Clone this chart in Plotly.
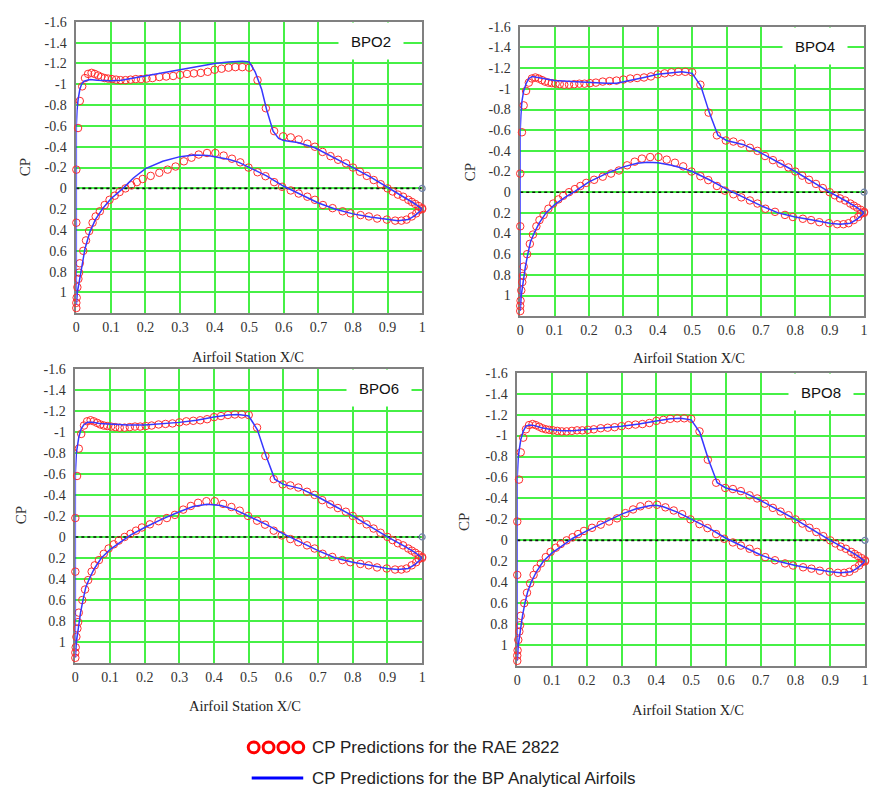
import plotly.graph_objects as go

# ---------------- DATA ----------------
panel_names = ["BPO2", "BPO4", "BPO6", "BPO8"]

x_ticks = [0, 0.1, 0.2, 0.3, 0.4, 0.5, 0.6, 0.7, 0.8, 0.9, 1.0]
x_ticktext = ["0", "0.1", "0.2", "0.3", "0.4", "0.5", "0.6", "0.7", "0.8", "0.9", "1"]
y_ticks = [-1.6, -1.4, -1.2, -1.0, -0.8, -0.6, -0.4, -0.2, 0, 0.2, 0.4, 0.6, 0.8, 1.0]
y_ticktext = ["-1.6", "-1.4", "-1.2", "-1", "-0.8", "-0.6", "-0.4", "-0.2", "0",
              "0.2", "0.4", "0.6", "0.8", "1"]

# RAE 2822 CP predictions (red circles) - upper surface
rae_up_x = [0.0, 0.005, 0.01, 0.017, 0.025, 0.034, 0.044, 0.053, 0.063, 0.072, 0.082,
            0.092, 0.103, 0.115, 0.128, 0.142, 0.157, 0.172, 0.187, 0.203, 0.22, 0.24,
            0.26, 0.28, 0.3, 0.32, 0.34, 0.36, 0.38, 0.4, 0.42, 0.44, 0.46, 0.48, 0.5,
            0.524, 0.548, 0.572, 0.598, 0.62, 0.643, 0.668, 0.69, 0.712, 0.735, 0.757,
            0.78, 0.8, 0.82, 0.84, 0.86, 0.88, 0.9, 0.915, 0.93, 0.945, 0.96, 0.97,
            0.98, 0.99, 1.0]
rae_up_cp = [-0.18, -0.58, -0.84, -0.98, -1.06, -1.1, -1.11, -1.1, -1.085, -1.07, -1.06,
             -1.055, -1.05, -1.045, -1.04, -1.04, -1.045, -1.05, -1.05, -1.055, -1.06,
             -1.07, -1.075, -1.08, -1.09, -1.1, -1.105, -1.11, -1.12, -1.14, -1.15,
             -1.16, -1.165, -1.165, -1.16, -1.04, -0.77, -0.55, -0.5, -0.49, -0.47,
             -0.43, -0.4, -0.35, -0.31, -0.275, -0.24, -0.2, -0.16, -0.12, -0.08, -0.04,
             0.0, 0.03, 0.06, 0.08, 0.11, 0.13, 0.15, 0.17, 0.19]
# lower surface
rae_lo_x = [0.0, 0.0, 0.0, 0.001, 0.003, 0.006, 0.008, 0.01, 0.02, 0.028, 0.037, 0.047,
            0.056, 0.068, 0.082, 0.096, 0.111, 0.125, 0.142, 0.159, 0.175, 0.192, 0.215,
            0.24, 0.264, 0.287, 0.311, 0.333, 0.354, 0.378, 0.402, 0.426, 0.45, 0.474,
            0.498, 0.524, 0.547, 0.572, 0.595, 0.62, 0.643, 0.668, 0.69, 0.713, 0.741,
            0.77, 0.793, 0.822, 0.846, 0.87, 0.898, 0.922, 0.94, 0.955, 0.97, 0.983,
            0.99, 1.0]
rae_lo_cp = [0.33, 1.15, 1.1, 1.05, 0.95, 0.87, 0.81, 0.72, 0.6, 0.5, 0.41, 0.33, 0.27,
             0.22, 0.16, 0.11, 0.07, 0.035, 0.0, -0.03, -0.06, -0.09, -0.12, -0.15,
             -0.18, -0.21, -0.26, -0.295, -0.325, -0.34, -0.34, -0.315, -0.285, -0.25,
             -0.2, -0.155, -0.117, -0.06, -0.015, 0.02, 0.05, 0.08, 0.11, 0.16, 0.19,
             0.22, 0.24, 0.257, 0.27, 0.29, 0.3, 0.31, 0.31, 0.3, 0.27, 0.24, 0.21, 0.2]

# BP analytical airfoils (blue lines): upper and lower surfaces, LE -> TE
bp2_up_x = [0.0, 0.0, 0.002, 0.005, 0.01, 0.015, 0.022, 0.03, 0.04, 0.06, 0.08, 0.1,
            0.13, 0.16, 0.2, 0.25, 0.3, 0.35, 0.4, 0.44, 0.46, 0.48, 0.5, 0.517, 0.536,
            0.55, 0.569, 0.585, 0.6, 0.64, 0.69, 0.75, 0.8, 0.85, 0.9, 0.95, 0.98, 1.0]
bp2_up_cp = [-0.4, -0.6, -0.75, -0.85, -0.95, -1.0, -1.03, -1.04, -1.045, -1.04, -1.035,
             -1.035, -1.04, -1.055, -1.08, -1.11, -1.14, -1.17, -1.2, -1.215, -1.222,
             -1.222, -1.215, -1.12, -0.95, -0.76, -0.55, -0.48, -0.46, -0.44, -0.39,
             -0.29, -0.2, -0.11, -0.01, 0.09, 0.15, 0.2]
bp2_lo_x = [0.0, 0.003, 0.008, 0.015, 0.025, 0.039, 0.055, 0.077, 0.1, 0.135, 0.165,
            0.2, 0.25, 0.3, 0.34, 0.38, 0.41, 0.44, 0.47, 0.5, 0.55, 0.6, 0.65, 0.7,
            0.75, 0.8, 0.85, 0.9, 0.93, 0.96, 0.98, 1.0]
bp2_lo_cp = [1.12, 1.0, 0.9, 0.78, 0.58, 0.42, 0.3, 0.19, 0.1, 0.0, -0.1, -0.19, -0.26,
             -0.305, -0.32, -0.315, -0.3, -0.28, -0.25, -0.2, -0.12, -0.02, 0.06, 0.14,
             0.2, 0.245, 0.275, 0.3, 0.31, 0.3, 0.26, 0.2]

bp4_up_x = [0.0, 0.0, 0.002, 0.005, 0.01, 0.017, 0.025, 0.035, 0.05, 0.07, 0.1, 0.15,
            0.2, 0.25, 0.28, 0.32, 0.36, 0.4, 0.44, 0.47, 0.5, 0.525, 0.55, 0.575, 0.6,
            0.65, 0.7, 0.75, 0.8, 0.85, 0.9, 0.95, 0.98, 1.0]
bp4_up_cp = [-0.4, -0.6, -0.75, -0.88, -0.98, -1.05, -1.1, -1.12, -1.115, -1.1, -1.08,
             -1.07, -1.06, -1.055, -1.055, -1.08, -1.11, -1.14, -1.155, -1.165, -1.15,
             -1.03, -0.77, -0.55, -0.5, -0.46, -0.38, -0.29, -0.2, -0.1, 0.0, 0.09,
             0.15, 0.2]
bp4_lo_x = [0.0, 0.003, 0.008, 0.015, 0.022, 0.03, 0.04, 0.055, 0.075, 0.1, 0.13, 0.16,
            0.2, 0.25, 0.3, 0.34, 0.37, 0.4, 0.44, 0.47, 0.5, 0.55, 0.6, 0.65, 0.7,
            0.75, 0.8, 0.85, 0.9, 0.93, 0.96, 0.98, 1.0]
bp4_lo_cp = [1.15, 1.0, 0.88, 0.72, 0.6, 0.48, 0.4, 0.3, 0.2, 0.12, 0.05, -0.01, -0.1,
             -0.18, -0.245, -0.28, -0.29, -0.285, -0.26, -0.235, -0.2, -0.12, -0.03,
             0.05, 0.13, 0.2, 0.24, 0.27, 0.3, 0.31, 0.3, 0.26, 0.2]

bp6_up_x = [0.0, 0.0, 0.003, 0.01, 0.017, 0.025, 0.035, 0.05, 0.07, 0.1, 0.15, 0.2,
            0.25, 0.3, 0.35, 0.4, 0.44, 0.47, 0.5, 0.525, 0.55, 0.575, 0.6, 0.65, 0.7,
            0.75, 0.8, 0.85, 0.9, 0.95, 0.98, 1.0]
bp6_up_cp = [-0.4, -0.6, -0.8, -0.95, -1.03, -1.07, -1.09, -1.09, -1.08, -1.07, -1.065,
             -1.065, -1.075, -1.09, -1.11, -1.14, -1.16, -1.165, -1.15, -1.02, -0.77,
             -0.55, -0.5, -0.46, -0.38, -0.29, -0.2, -0.1, 0.0, 0.09, 0.15, 0.2]
bp6_lo_x = [0.0, 0.003, 0.008, 0.015, 0.022, 0.03, 0.04, 0.055, 0.075, 0.1, 0.13, 0.16,
            0.2, 0.25, 0.3, 0.34, 0.38, 0.42, 0.46, 0.5, 0.55, 0.6, 0.65, 0.7, 0.75,
            0.8, 0.85, 0.9, 0.93, 0.96, 0.98, 1.0]
bp6_lo_cp = [1.15, 1.0, 0.88, 0.72, 0.6, 0.48, 0.4, 0.3, 0.2, 0.12, 0.05, -0.02, -0.09,
             -0.17, -0.24, -0.29, -0.31, -0.3, -0.26, -0.2, -0.12, -0.03, 0.05, 0.13,
             0.2, 0.24, 0.27, 0.3, 0.31, 0.3, 0.26, 0.2]

bp8_up_x = [0.0, 0.0, 0.003, 0.01, 0.017, 0.025, 0.035, 0.05, 0.07, 0.1, 0.13, 0.16,
            0.2, 0.25, 0.3, 0.35, 0.4, 0.44, 0.47, 0.5, 0.525, 0.55, 0.575, 0.6, 0.65,
            0.7, 0.75, 0.8, 0.85, 0.9, 0.95, 0.98, 1.0]
bp8_up_cp = [-0.4, -0.6, -0.8, -0.96, -1.04, -1.09, -1.1, -1.095, -1.075, -1.055, -1.045,
             -1.045, -1.055, -1.075, -1.09, -1.11, -1.14, -1.16, -1.165, -1.15, -1.03,
             -0.77, -0.55, -0.5, -0.46, -0.38, -0.29, -0.2, -0.1, 0.0, 0.09, 0.15, 0.2]
bp8_lo_x = [0.0, 0.003, 0.008, 0.015, 0.022, 0.03, 0.04, 0.055, 0.075, 0.1, 0.13, 0.16,
            0.2, 0.25, 0.3, 0.34, 0.38, 0.4, 0.42, 0.46, 0.5, 0.55, 0.6, 0.65, 0.7,
            0.75, 0.8, 0.85, 0.9, 0.93, 0.96, 0.98, 1.0]
bp8_lo_cp = [1.15, 1.0, 0.88, 0.72, 0.6, 0.49, 0.4, 0.3, 0.2, 0.12, 0.05, -0.02, -0.09,
             -0.17, -0.25, -0.3, -0.33, -0.335, -0.32, -0.27, -0.2, -0.12, -0.02, 0.06,
             0.14, 0.2, 0.24, 0.27, 0.3, 0.31, 0.3, 0.26, 0.2]

zero_x = [0, 1]
zero_cp = [0, 0]

legend_labels = ["CP Predictions for the RAE 2822", "CP Predictions for the BP Analytical Airfoils"]

# ---------------- LAYOUT HELPERS ----------------
W, H = 873, 787
def px(x):
    return x / W
def py(y):
    return 1 - y / H

# plot-area pixel boxes (left, right, top, bottom)
boxes = [(73, 422, 15, 309), (521, 868, 20, 312), (72, 422, 365, 662), (518, 869, 369, 665)]
name_box_centers = [(370, 34), (818, 39), (378, 384), (825, 388)]
xtitle_pos = [(246, 353), (691, 354), (243, 705), (690, 709)]
ytitle_pos = [(21, 162), (470, 167), (18, 513), (465, 520)]

blue_data = [(bp2_up_x, bp2_up_cp, bp2_lo_x, bp2_lo_cp),
             (bp4_up_x, bp4_up_cp, bp4_lo_x, bp4_lo_cp),
             (bp6_up_x, bp6_up_cp, bp6_lo_x, bp6_lo_cp),
             (bp8_up_x, bp8_up_cp, bp8_lo_x, bp8_lo_cp)]

GRID = "rgb(70,240,70)"
RED = "rgb(255,45,45)"
BLUE = "rgb(55,55,255)"
TICKFONT = dict(family="Liberation Serif, Times New Roman, serif", size=14, color="#333")

fig = go.Figure()
annotations = []
layout_axes = {}

for i in range(4):
    n = "" if i == 0 else str(i + 1)
    xa, ya = "x" + n, "y" + n
    ux, ucp, lx, lcp = blue_data[i]

    fig.add_trace(go.Scatter(
        x=zero_x, y=zero_cp, mode="lines", xaxis=xa, yaxis=ya, showlegend=False,
        line=dict(color="#111", width=1.6, dash="dot"), hoverinfo="skip"))
    fig.add_trace(go.Scatter(
        x=zero_x[1:], y=zero_cp[1:], mode="markers", xaxis=xa, yaxis=ya, showlegend=False,
        cliponaxis=False,
        marker=dict(symbol="circle-open", size=6, color="rgb(110,130,170)", line=dict(width=1.2))))
    fig.add_trace(go.Scatter(
        x=rae_up_x + rae_lo_x, y=rae_up_cp + rae_lo_cp, mode="markers",
        xaxis=xa, yaxis=ya, showlegend=False, cliponaxis=False,
        marker=dict(symbol="circle-open", size=7.5, color=RED, line=dict(width=1, color=RED))))
    fig.add_trace(go.Scatter(
        x=ux[::-1] + lx, y=ucp[::-1] + lcp, mode="lines",
        xaxis=xa, yaxis=ya, showlegend=False,
        line=dict(color=BLUE, width=1.5)))

    l, r, t, b = boxes[i]
    layout_axes["xaxis" + n] = dict(
        domain=[px(l), px(r)], range=[0, 1], anchor=ya,
        tickmode="array", tickvals=x_ticks, ticktext=x_ticktext,
        showgrid=True, gridcolor=GRID, gridwidth=2, zeroline=False,
        showline=True, mirror=True, linecolor="#808080", linewidth=1.5,
        ticks="", tickfont=TICKFONT, ticklabelstandoff=0,
        layer="below traces", fixedrange=True)
    layout_axes["yaxis" + n] = dict(
        domain=[py(b), py(t)], range=[1.2, -1.6], anchor=xa,
        tickmode="array", tickvals=y_ticks, ticktext=y_ticktext,
        showgrid=True, gridcolor=GRID, gridwidth=2, zeroline=False,
        showline=True, mirror=True, linecolor="#808080", linewidth=1.5,
        ticks="", tickfont=TICKFONT, ticklabelstandoff=5,
        layer="below traces", fixedrange=True)

    cx, cy = name_box_centers[i]
    annotations.append(dict(
        text=panel_names[i], xref="paper", yref="paper", x=px(cx), y=py(cy),
        xanchor="center", yanchor="middle",
        showarrow=False, bgcolor="white", width=62, height=34,
        font=dict(family="Liberation Sans, Arial, sans-serif", size=15, color="#111")))
    tx, ty = xtitle_pos[i]
    annotations.append(dict(
        text="Airfoil Station X/C", xref="paper", yref="paper", x=px(tx), y=py(ty),
        xanchor="center", yanchor="middle",
        showarrow=False, font=dict(family="Liberation Serif, Times New Roman, serif",
                                   size=14.5, color="#222")))
    yx, yy = ytitle_pos[i]
    annotations.append(dict(
        text="CP", xref="paper", yref="paper", x=px(yx), y=py(yy), textangle=-90,
        xanchor="center", yanchor="middle",
        showarrow=False, font=dict(family="Liberation Serif, Times New Roman, serif",
                                   size=15, color="#333")))

# Legend (custom, below the panels)
shapes = []
for cx in [252, 267, 282, 297]:
    shapes.append(dict(type="circle", xref="paper", yref="paper",
                       x0=px(cx - 5.5), x1=px(cx + 5.5), y0=py(747 + 5.5), y1=py(747 - 5.5),
                       line=dict(color="red", width=3)))
shapes.append(dict(type="line", xref="paper", yref="paper",
                   x0=px(250), x1=px(302), y0=py(778), y1=py(778),
                   line=dict(color="#0000ff", width=3)))
for lab, yy in zip(legend_labels, [747, 778]):
    annotations.append(dict(
        text=lab, xref="paper", yref="paper", x=px(309), y=py(yy),
        xanchor="left", yanchor="middle",
        showarrow=False, font=dict(family="Liberation Sans, Arial, sans-serif",
                                   size=17, color="#222")))

fig.update_layout(
    width=W, height=H, margin=dict(l=0, r=0, t=0, b=0, pad=0),
    paper_bgcolor="white", plot_bgcolor="white",
    annotations=annotations, shapes=shapes, showlegend=False,
    **layout_axes)

fig.write_html("out.html")
